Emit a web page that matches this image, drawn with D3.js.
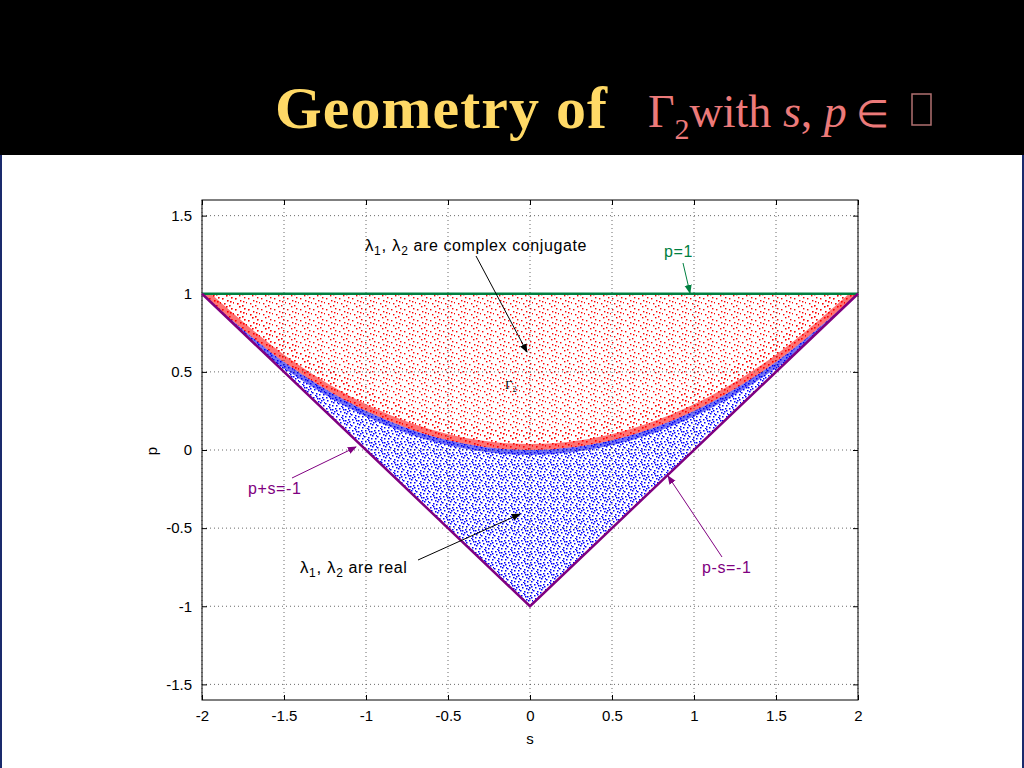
<!DOCTYPE html>
<html><head><meta charset="utf-8">
<script src="https://cdn.jsdelivr.net/npm/d3@7"></script>
<style>body{margin:0;background:#fff}svg{display:block}</style>
</head><body><svg id="c" width="1024" height="768"></svg>
<script>
// boundary data
const upperLine = [[-2, 1], [2, 1]];            // p = 1
const leftLine = [[-2, 1], [0, -1]];            // p + s = -1
const rightLine = [[0, -1], [2, 1]];            // p - s = -1
const parabola = [[-2, 1], [-1.5, 0.5625], [-1, 0.25], [-0.5, 0.0625], [0, 0],
                  [0.5, 0.0625], [1, 0.25], [1.5, 0.5625], [2, 1]];
const xTicks = [-2, -1.5, -1, -0.5, 0, 0.5, 1, 1.5, 2];
const yTicks = [-1.5, -1, -0.5, 0, 0.5, 1, 1.5];

const svg = d3.select("#c");
const x = d3.scaleLinear().domain([-2, 2]).range([202, 858]);
const y = d3.scaleLinear().domain([-1.6, 1.6]).range([700, 200]);
const fmt = v => String(v).replace("−", "-");

// slide header
svg.append("rect").attr("width", 1024).attr("height", 155).attr("fill", "#000");
svg.append("rect").attr("x", 0).attr("y", 155).attr("width", 2).attr("height", 613).attr("fill", "#1a2a6c");
svg.append("rect").attr("x", 1022).attr("y", 155).attr("width", 2).attr("height", 613).attr("fill", "#1a2a6c");
svg.append("text").attr("x", 275).attr("y", 128).attr("fill", "#ffd966")
  .attr("textLength", 332).style("font", "bold 60px 'Liberation Serif'").text("Geometry of");
const t2 = svg.append("text").attr("x", 648).attr("y", 127).attr("fill", "#ec7a7a")
  .style("font", "46px 'Liberation Serif'");
t2.append("tspan").text("Γ");
t2.append("tspan").attr("dy", 12).style("font-size", "30px").text("2");
t2.append("tspan").attr("dy", -12).text("with ");
t2.append("tspan").style("font-style", "italic").text("s");
t2.append("tspan").text(", ");
t2.append("tspan").style("font-style", "italic").text("p");
t2.append("tspan").style("font-size", "38px").text(" ∈");
svg.append("rect").attr("x", 912).attr("y", 94).attr("width", 19).attr("height", 31)
  .attr("fill", "none").attr("stroke", "#b07070").attr("stroke-width", 1.5);

// dot patterns imitating the scatter
const defs = svg.append("defs");
function dots(id, color, pts, size) {
  const p = defs.append("pattern").attr("id", id).attr("patternUnits", "userSpaceOnUse")
    .attr("width", 13).attr("height", 11);
  pts.forEach(d => p.append("rect").attr("x", d[0]).attr("y", d[1])
    .attr("width", size).attr("height", size).attr("fill", color));
}
dots("red", "#f00", [[1,1],[6,3],[10,0],[3,6],[8,8],[12,5],[5,9],[9,4]], 1.4);
dots("blue", "#00f", [[1,1],[4,0],[7,2],[10,1],[2,4],[6,5],[9,4],[12,6],[0,7],[4,8],[7,9],[11,9],[3,10],[8,6],[5,2],[11,3]], 1.5);

const line = d3.line().x(d => x(d[0])).y(d => y(d[1])).curve(d3.curveCatmullRom);
const lin = d3.line().x(d => x(d[0])).y(d => y(d[1]));
const redArea = line(parabola) + "Z";
const blueArea = line(parabola) + "L" + x(0) + "," + y(-1) + "Z";
defs.append("clipPath").attr("id", "cr").append("path").attr("d", redArea);
defs.append("clipPath").attr("id", "cb").append("path").attr("d", blueArea);

// regions
svg.append("path").attr("d", redArea).attr("fill", "url(#red)");
svg.append("path").attr("d", blueArea).attr("fill", "url(#blue)");
svg.append("path").attr("d", line(parabola)).attr("fill", "none").attr("stroke", "url(#red)")
  .attr("stroke-width", 40).attr("clip-path", "url(#cr)");
svg.append("path").attr("d", line(parabola)).attr("fill", "none").attr("stroke", "#f00")
  .attr("stroke-width", 12).attr("stroke-opacity", 0.55).attr("clip-path", "url(#cr)");
svg.append("path").attr("d", line(parabola)).attr("fill", "none").attr("stroke", "#0000ee")
  .attr("stroke-width", 10).attr("stroke-opacity", 0.55).attr("clip-path", "url(#cb)");

// grid + axes
const g = svg.append("g");
xTicks.forEach(v => g.append("line").attr("x1", x(v)).attr("x2", x(v)).attr("y1", 200).attr("y2", 700)
  .attr("stroke", "#444").attr("stroke-dasharray", "1,3").attr("stroke-width", 0.8));
yTicks.forEach(v => g.append("line").attr("y1", y(v)).attr("y2", y(v)).attr("x1", 202).attr("x2", 858)
  .attr("stroke", "#444").attr("stroke-dasharray", "1,3").attr("stroke-width", 0.8));
svg.append("rect").attr("x", 202).attr("y", 200).attr("width", 656).attr("height", 500)
  .attr("fill", "none").attr("stroke", "#000");
const ax = svg.append("g").attr("transform", "translate(0,700)")
  .call(d3.axisBottom(x).tickValues(xTicks).tickSize(-5).tickPadding(10).tickFormat(fmt));
const ay = svg.append("g").attr("transform", "translate(202,0)")
  .call(d3.axisLeft(y).tickValues(yTicks).tickSize(-5).tickPadding(10).tickFormat(fmt));
[ax, ay].forEach(a => { a.select(".domain").remove(); a.selectAll("text").style("font", "15px 'Liberation Sans'").attr("fill", "#000"); });
svg.append("g").attr("transform", "translate(0,200)")
  .call(d3.axisTop(x).tickValues(xTicks).tickSize(-5).tickFormat("")).select(".domain").remove();
svg.append("g").attr("transform", "translate(858,0)")
  .call(d3.axisRight(y).tickValues(yTicks).tickSize(-5).tickFormat("")).select(".domain").remove();
svg.append("text").attr("x", 530).attr("y", 744).attr("text-anchor", "middle").style("font", "15px 'Liberation Sans'").text("s");
svg.append("text").attr("transform", "translate(157,451) rotate(-90)").attr("text-anchor", "middle").style("font", "15px 'Liberation Sans'").text("p");

// boundary lines
svg.append("path").attr("d", lin(upperLine)).attr("stroke", "#008040").attr("stroke-width", 2.5);
svg.append("path").attr("d", lin(leftLine.concat([rightLine[1]]))).attr("fill", "none").attr("stroke", "#800080").attr("stroke-width", 2.5);

// annotations
defs.append("marker").attr("id", "ar").attr("viewBox", "0 0 10 10").attr("refX", 9).attr("refY", 5)
  .attr("markerWidth", 9).attr("markerHeight", 9).attr("orient", "auto")
  .append("path").attr("d", "M0,1L10,5L0,9Z").attr("fill", "context-stroke");
function arrow(x1, y1, x2, y2, c) {
  svg.append("line").attr("x1", x1).attr("y1", y1).attr("x2", x2).attr("y2", y2)
    .attr("stroke", c).attr("stroke-width", 1).attr("marker-end", "url(#ar)");
}
function label(tx, ty, parts, c) {
  const t = svg.append("text").attr("x", tx).attr("y", ty).attr("fill", c).style("font", "16px 'Liberation Sans'").style("letter-spacing", "0.6px");
  parts.forEach(p => t.append("tspan").attr("dy", p[1] || 0).style("font-size", p[2] || null).text(p[0]));
}
label(365, 251, [["λ", 0, "17px"], ["1", 4, "12px"], [", λ", -4, "17px"], ["2", 4, "12px"], [" are complex conjugate", -4]], "#000");
arrow(476, 256, 527, 352, "#000");
label(664, 257, [["p=1"]], "#008040");
arrow(683, 263, 690, 293, "#008040");
svg.append("text").attr("x", 505).attr("y", 389).style("font", "13px 'Liberation Serif'").text("Γ").append("tspan").attr("dy", 3).style("font-size", "8px").text("2");
label(248, 494, [["p+s=-1"]], "#800080");
arrow(292, 478, 356, 447, "#800080");
label(300, 573, [["λ", 0, "17px"], ["1", 4, "12px"], [", λ", -4, "17px"], ["2", 4, "12px"], [" are real", -4]], "#000");
arrow(418, 560, 520, 514, "#000");
label(702, 573, [["p-s=-1"]], "#800080");
arrow(722, 557, 668, 476, "#800080");
</script></body></html>
